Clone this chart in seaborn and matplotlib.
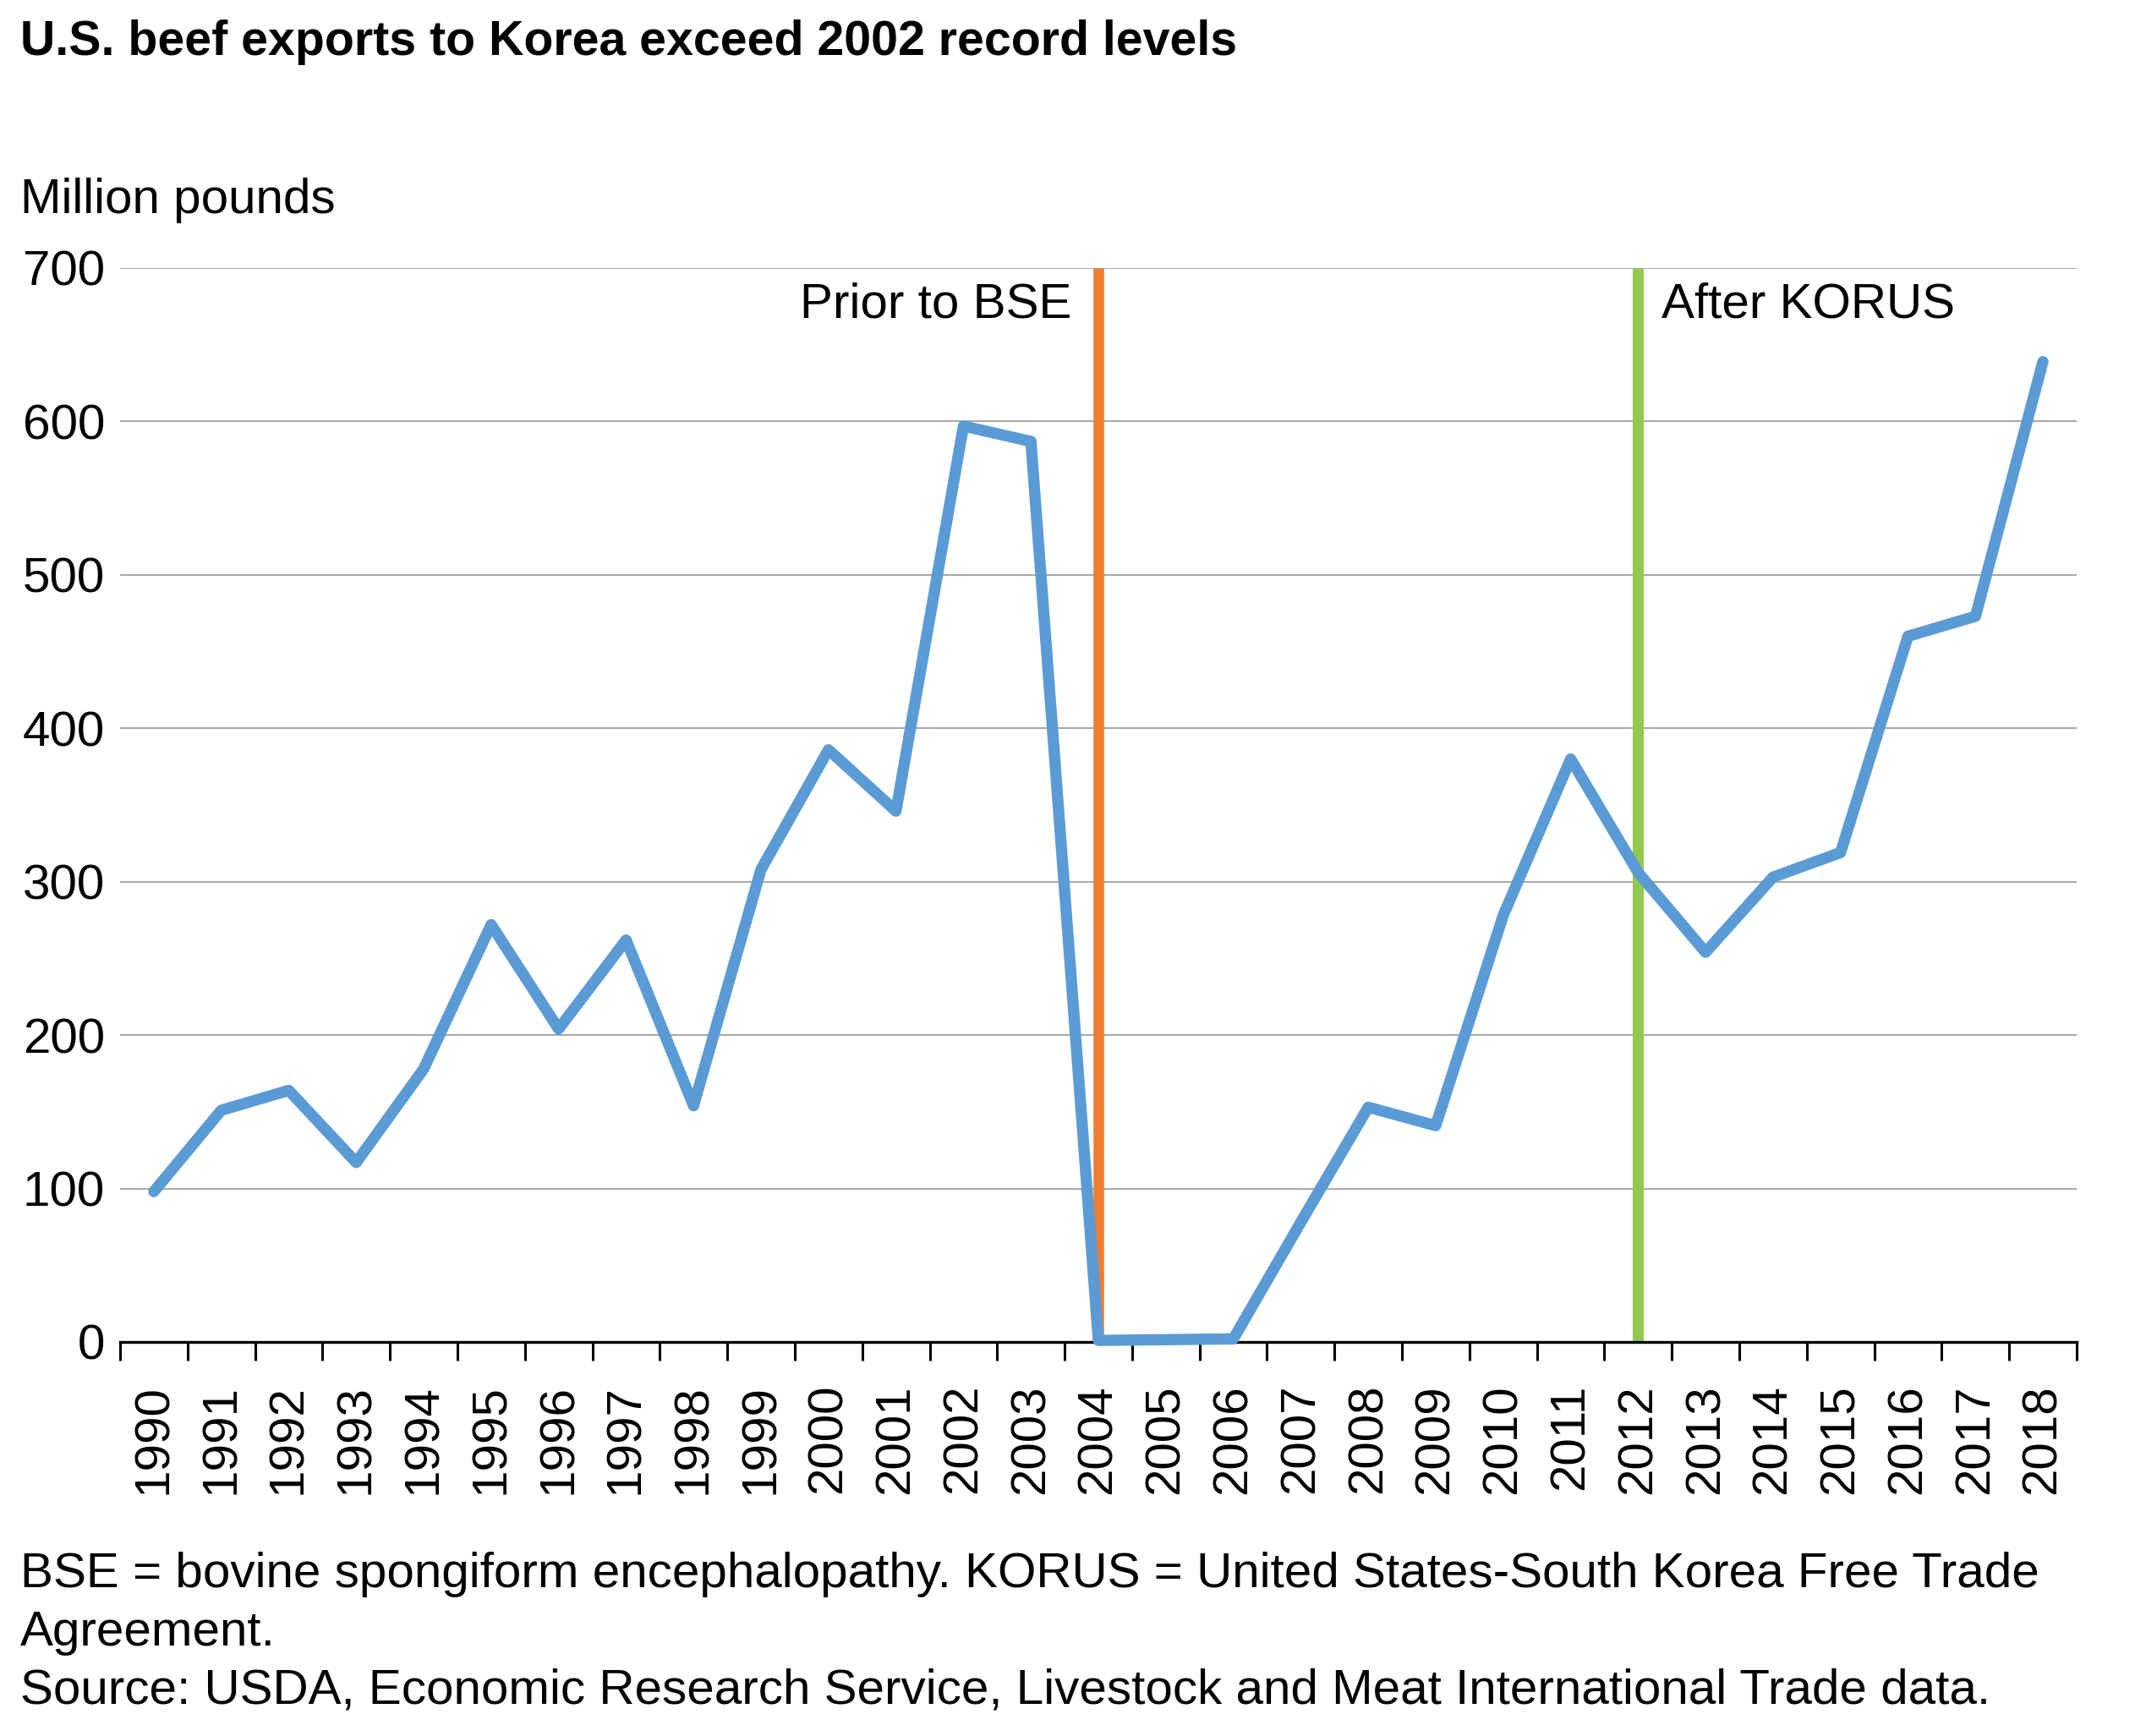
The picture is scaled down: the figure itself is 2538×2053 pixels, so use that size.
import matplotlib
matplotlib.use("Agg")
import matplotlib.pyplot as plt
import seaborn as sns
import pandas as pd
import numpy as np

# Du lieu doc tu bieu do (trieu pound)
years = list(range(1990, 2019))
exports = [98, 151, 164, 117, 178, 272, 204, 262, 154, 308, 386, 346, 597, 587,
           1, 1.5, 2, 78, 153, 141, 278, 380, 306, 254, 303, 319, 460, 473, 639]
yticks = [0, 100, 200, 300, 400, 500, 600, 700]
bse_year = 2004
korus_year = 2012

title = "U.S. beef exports to Korea exceed 2002 record levels"
unit_label = "Million pounds"
notes = ["BSE = bovine spongiform encephalopathy. KORUS = United States-South Korea Free Trade",
         "Agreement.",
         "Source: USDA, Economic Research Service, Livestock and Meat International Trade data."]

df = pd.DataFrame({"year": years, "exports": exports})

sns.set_theme(style="white")
plt.rcParams['font.family'] = ['Liberation Sans', 'DejaVu Sans']
plt.rcParams['text.color'] = 'black'
plt.rcParams['xtick.color'] = 'black'
plt.rcParams['ytick.color'] = 'black'
plt.rcParams['axes.labelcolor'] = 'black'

W, H, DPI = 2538, 2053, 200
fig = plt.figure(figsize=(W / DPI, H / DPI), dpi=DPI)
ax = fig.add_axes([142 / W, 1 - 1587 / H, (2456 - 142) / W, (1587 - 317) / H])

FS = 21

# luoi ngang
for t in yticks[1:]:
    ax.axhline(t, color="#a6a6a6", lw=0.7, zorder=0)

# duong moc BSE va KORUS
ax.vlines(bse_year, 0, 700, color="#ED7D31", lw=4.5, zorder=2)
ax.vlines(korus_year, 0, 700, color="#92C84F", lw=4.7, zorder=2)

sns.lineplot(data=df, x="year", y="exports", ax=ax, color="#5B9BD5", lw=4.8,
             zorder=4, clip_on=False, solid_joinstyle="round", solid_capstyle="round")

ax.text(bse_year - 0.4, 676, "Prior to BSE", ha="right", va="center", fontsize=FS)
ax.text(korus_year + 0.35, 676, "After KORUS", ha="left", va="center", fontsize=FS)

ax.set_xlim(years[0] - 0.5, years[-1] + 0.5)
ax.set_ylim(0, 700)
ax.set_yticks(yticks)
ax.set_yticklabels([str(t) for t in yticks], fontsize=FS)
ax.set_xticks(years)
ax.set_xticklabels([str(y) for y in years], rotation=90, fontsize=FS)
ax.set_xticks(np.arange(years[0] - 0.5, years[-1] + 1.0, 1.0), minor=True)
ax.tick_params(axis="x", which="both", bottom=True)
ax.tick_params(axis="x", which="major", length=0, pad=18)
ax.tick_params(axis="x", which="minor", length=8, width=1.1, color="black", direction="out")
ax.tick_params(axis="y", length=0, pad=6.5)
ax.set_xlabel("")
ax.set_ylabel("")
for s in ["top", "right", "left"]:
    ax.spines[s].set_visible(False)
ax.spines["bottom"].set_color("black")
ax.spines["bottom"].set_linewidth(1.2)
ax.spines["bottom"].set_zorder(3)

fig.text(24 / W, 1 - 65 / H, title, fontsize=20.6, fontweight="bold", va="baseline", ha="left")
fig.text(24 / W, 1 - 252 / H, unit_label, fontsize=FS, va="baseline", ha="left")
for i, line in enumerate(notes):
    fig.text(24 / W, 1 - (1877 + i * 69) / H, line, fontsize=FS, va="baseline", ha="left")

fig.savefig("out.png", dpi=DPI, facecolor="white")
